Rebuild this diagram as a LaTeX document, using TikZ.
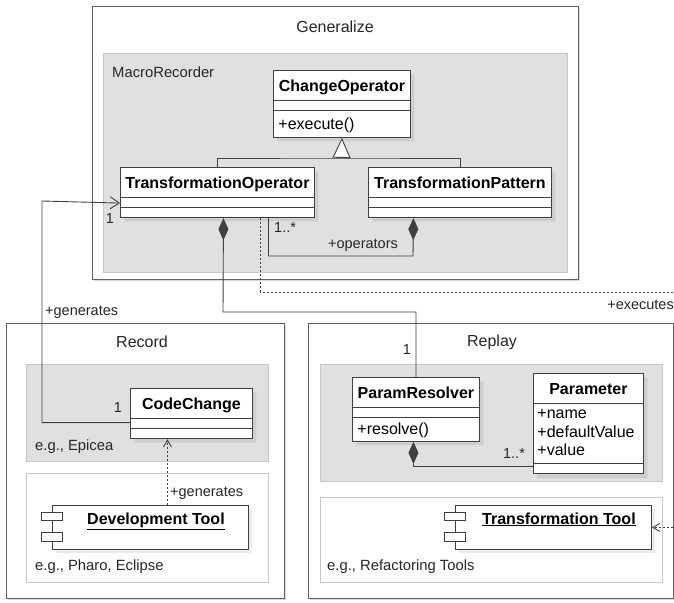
\documentclass[tikz,border=0pt]{standalone}
\usepackage{fontspec}
\setmainfont{Liberation Sans}
\usetikzlibrary{arrows.meta,shapes.multipart,shadows}

\newcommand{\cname}[1]{\textbf{#1}\rule[-6pt]{0pt}{25pt}}

\tikzset{
  pkg/.style={draw=black!62, line width=1.2pt, fill=white, anchor=north west, inner sep=0pt,
    drop shadow={shadow xshift=1.5pt, shadow yshift=-1.5pt, fill=black, opacity=0.15}},
  area/.style={draw=black!22, line width=1pt, fill=black!12, anchor=north west, inner sep=0pt},
  toolarea/.style={area, fill=white},
  cls/.style={rectangle split, rectangle split parts=3, draw=black!75, fill=white,
    line width=0.9pt, inner xsep=5pt, inner ysep=2pt, anchor=north west,
    rectangle split empty part height=5pt, rectangle split empty part depth=0pt,
    rectangle split part align={center,left,left},
    font=\fontsize{16}{18.5}\selectfont,
    drop shadow={shadow xshift=4pt, shadow yshift=-4pt, fill=black, opacity=0.08}},
  compo/.style={draw=black!75, fill=white, line width=0.9pt, anchor=north west,
    minimum width=196pt, minimum height=44pt, inner sep=0pt,
    drop shadow={shadow xshift=4pt, shadow yshift=-4pt, fill=black, opacity=0.08}},
  port/.style={draw=black!75, fill=white, line width=0.9pt, inner sep=0pt,
    minimum width=21pt, minimum height=8.5pt},
  compname/.style={anchor=base, inner sep=0pt, font=\fontsize{16}{19}\selectfont\bfseries},
  title/.style={font=\fontsize{16}{19}\selectfont, text=black!85},
  note/.style={font=\fontsize{14.8}{17}\selectfont, anchor=west, inner sep=0pt, text=black!85},
  lbl/.style={font=\fontsize{14.5}{17}\selectfont, inner sep=0pt, text=black!85},
  link/.style={draw=black!75, line width=0.9pt},
  owns/.style={link, -{Diamond[length=22pt,width=10pt]}},
  nav/.style={link, -{Straight Barb[length=9pt,width=12pt]}},
  dep/.style={link, dash pattern=on 2pt off 2pt, -{Straight Barb[length=7pt,width=8pt]}},
  isa/.style={link, -{Triangle[open,length=20pt,width=18pt,fill=white]}},
}

\begin{document}
\begin{tikzpicture}[x=1pt,y=-1pt]
\useasboundingbox (0,0) rectangle (674,602);

% packages
\node[pkg, minimum width=486pt, minimum height=273pt] (gen) at (92,6) {};
\node[pkg, minimum width=278pt, minimum height=275pt] (rec) at (6,323) {};
\node[pkg, minimum width=365pt, minimum height=275pt] (rep) at (308,323) {};
\node[title] (gentitle) at (335,27) {Generalize};
\node[title] (rectitle) at (142,342) {Record};
\node[title] (reptitle) at (492,342) {Replay};

% areas
\node[area, minimum width=464pt, minimum height=219pt] (macro) at (103,53) {};
\node[area, minimum width=242pt, minimum height=97pt] (epicea) at (26,364) {};
\node[toolarea, minimum width=242pt, minimum height=109pt] (devarea) at (26,473) {};
\node[area, minimum width=342pt, minimum height=117pt] (resarea) at (320,364) {};
\node[toolarea, minimum width=342pt, minimum height=85pt] (refarea) at (320,497) {};
\node[note] (macrolbl) at (112,72) {MacroRecorder};
\node[note] (epicealbl) at (35,447) {e.g., Epicea};
\node[note] (devlbl) at (35,567) {e.g., Pharo, Eclipse};
\node[note] (reflbl) at (327,567) {e.g., Refactoring Tools};

% classes
\node[cls, minimum width=137pt] (co) at (273,70)
  {\cname{ChangeOperator}\nodepart{two}\nodepart{three}+execute()\rule[-5pt]{0pt}{22pt}};
\node[cls, minimum width=194pt] (top) at (120,167)
  {\cname{TransformationOperator}\nodepart{two}\nodepart{three}};
\node[cls, minimum width=183pt] (tpat) at (368,167)
  {\cname{TransformationPattern}\nodepart{two}\nodepart{three}};
\node[cls, minimum width=122pt] (cc) at (130,388)
  {\cname{CodeChange}\nodepart{two}\nodepart{three}};
\node[cls, minimum width=127pt] (pr) at (352,377)
  {\cname{ParamResolver}\nodepart{two}\nodepart{three}+resolve()\rule[-4pt]{0pt}{19pt}};
\node[cls, minimum width=110pt, inner xsep=4pt] (par) at (533,373)
  {\cname{Parameter}\nodepart{two}\begin{tabular}[t]{@{}l@{}}+name\\+defaultValue\\+value\end{tabular}\nodepart{three}};

% components
\node[compo] (devt) at (52,505) {};
\node[port] (devtp1) at ([yshift=11pt]devt.west) {};
\node[port] (devtp2) at ([yshift=-9.5pt]devt.west) {};
\node[compname] (devtname) at ([xshift=5.5pt,yshift=-19pt]devt.north) {\underline{Development Tool}};
\node[compo] (trt) at (455,505) {};
\node[port] (trtp1) at ([yshift=11pt]trt.west) {};
\node[port] (trtp2) at ([yshift=-9.5pt]trt.west) {};
\node[compname] (trtname) at ([xshift=5.5pt,yshift=-19pt]trt.north) {\underline{Transformation Tool}};

% generalization
\coordinate (ibend) at (341.5,158);
\draw[link] (top.north) |- (ibend) -| (tpat.north);
\draw[isa] (ibend) -- (co.south);

% associations
\coordinate (gbend) at (42,201);
\draw[nav] ([yshift=-9pt]cc.west) -| (gbend) -- ([yshift=-10.5pt]top.west);
\node[lbl] (gen1) at (110,219) {1};
\node[lbl, anchor=west] (genlbl) at (45,312) {+generates};
\node[lbl] (cc1) at (118,408) {1};

\coordinate (rbend) at (223,312);
\draw[owns] (pr.north) |- (rbend) -- ([xshift=6pt]top.south);
\node[lbl] (pr1) at (407,350) {1};

\coordinate (obend) at (413,256);
\draw[owns] ([xshift=51pt]top.south) |- (obend) -- ([xshift=-46.5pt]tpat.south);
\node[lbl, anchor=west] (opmult) at (274,228) {1..*};
\node[lbl] (oplbl) at (363,245) {+operators};

\draw[owns] ([yshift=-43pt]par.west) -| ([xshift=-2.5pt]pr.south);
\node[lbl] (parmult) at (514,454) {1..*};

% dependencies
\draw[dep] ([xshift=17pt]devt.north) -- ([xshift=-24pt]cc.south);
\node[lbl, anchor=west] (deplbl) at (170,493) {+generates};

\coordinate (ebend) at (690,292);
\draw[dep] ([xshift=43pt]top.south) |- (ebend) |- (trt.east);
\node[lbl, anchor=east] (exlbl) at (674,305) {+executes};
\end{tikzpicture}
\end{document}
